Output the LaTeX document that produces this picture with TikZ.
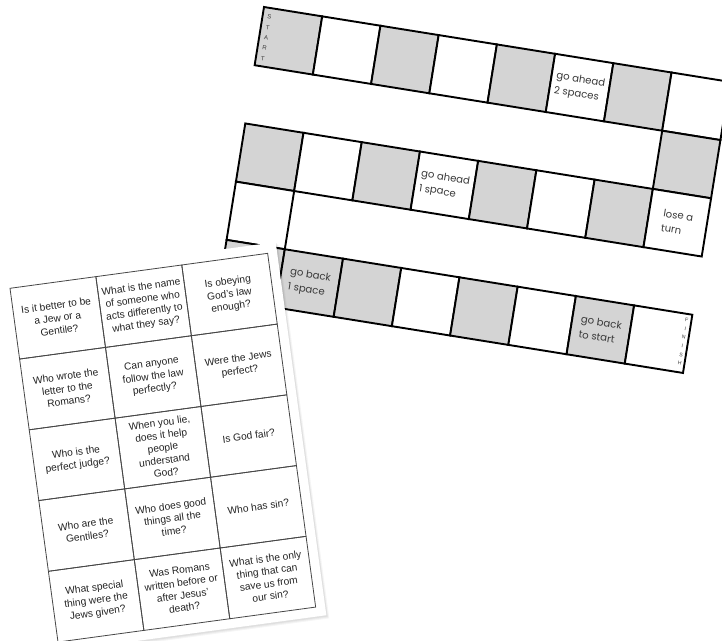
\documentclass[tikz,border=0pt]{standalone}
\usepackage{fontspec}
\setmainfont{Liberation Sans}
\newfontfamily\boardfont{Poppins}
\definecolor{cellgray}{RGB}{212,212,212}
\definecolor{boardtxt}{RGB}{58,58,58}
\definecolor{cardtxt}{RGB}{35,35,35}
\definecolor{cardline}{RGB}{70,70,70}
\begin{document}
\begin{tikzpicture}[x=1pt,y=-1pt,
  bcell/.style={draw=black, line width=1.9pt, minimum width=58.97pt, minimum height=58.97pt, inner sep=0pt, outer sep=0pt, transform shape},
  btext/.style={font=\boardfont\fontsize{10.1}{14.8}\selectfont, text=boardtxt, align=left, inner sep=0pt, transform shape},
  tiny/.style={font=\fontsize{6}{10.4}\selectfont, text=boardtxt, align=center, inner sep=0pt, transform shape},
  ccell/.style={draw=cardline, line width=0.8pt, minimum width=86.67pt, minimum height=71.4pt, inner sep=0pt, outer sep=0pt, transform shape},
  ctext/.style={font=\fontsize{10.2}{12.6}\selectfont, text=cardtxt, align=center, inner sep=0pt, transform shape}]
\useasboundingbox (0,0) rectangle (722,640);
\clip (0,0) rectangle (722,640);
\fill[white] (0,0) rectangle (722,640);
\def\S{58.97}
% ---------------- game board ----------------
\begin{scope}[shift={(264,7)}, rotate=-9.13]
  \foreach \i/\j/\f in {0/0/cellgray,1/0/white,2/0/cellgray,3/0/white,4/0/cellgray,5/0/white,6/0/cellgray,7/0/white,
                        7/1/cellgray,
                        0/2/cellgray,1/2/white,2/2/cellgray,3/2/white,4/2/cellgray,5/2/white,6/2/cellgray,7/2/white,
                        0/3/white,
                        0/4/cellgray,1/4/cellgray,2/4/cellgray,3/4/white,4/4/cellgray,5/4/white,6/4/cellgray,7/4/white}
    \node[bcell, fill=\f] (c\i\j) at ({(\i+0.5)*\S},{(\j+0.5)*\S}) {};
  \node[btext] (t1) at (c50.center) {go ahead\\2 spaces};
  \node[btext] (t2) at (c32.center) {go ahead\\1 space};
  \node[btext] (t3) at (c72.center) {lose a\\turn};
  \node[btext] (t4) at (c14.center) {go back\\1 space};
  \node[btext] (t5) at (c64.center) {go back\\to start};
  \node[tiny] (start) at (7,30) {S\\T\\A\\R\\T};
  \node[tiny, font=\fontsize{5.2}{8.8}\selectfont] (finish) at ({8*\S-4.8},{4*\S+28}) {F\\I\\N\\I\\S\\H};
\end{scope}
% ---------------- question cards ----------------
\begin{scope}[shift={(10,288.3)}, rotate=7.73]
  \fill[black, opacity=0.04] (-7,-7) rectangle (272,370);
  \fill[black, opacity=0.04] (-8,-8) rectangle (271,369);
  \fill[black, opacity=0.05] (-9,-9) rectangle (270.5,368);
  \fill[white] (-10,-10) rectangle (269.5,366.5);
  \foreach \i in {0,1,2}
    \foreach \j in {0,...,4}
      \node[ccell] (q\i\j) at ({(\i+0.5)*86.67},{(\j+0.5)*71.4}) {};
  \node[ctext] (k00) at (q00.center) {Is it better to be\\a Jew or a\\Gentile?};
  \node[ctext] (k10) at (q10.center) {What is the name\\of someone who\\acts differently to\\what they say?};
  \node[ctext] (k20) at (q20.center) {Is obeying\\God's law\\enough?};
  \node[ctext] (k01) at (q01.center) {Who wrote the\\letter to the\\Romans?};
  \node[ctext] (k11) at (q11.center) {Can anyone\\follow the law\\perfectly?};
  \node[ctext] (k21) at (q21.center) {Were the Jews\\perfect?};
  \node[ctext] (k02) at (q02.center) {Who is the\\perfect judge?};
  \node[ctext] (k12) at (q12.center) {When you lie,\\does it help\\people\\understand\\God?};
  \node[ctext] (k22) at (q22.center) {Is God fair?};
  \node[ctext] (k03) at (q03.center) {Who are the\\Gentiles?};
  \node[ctext] (k13) at (q13.center) {Who does good\\things all the\\time?};
  \node[ctext] (k23) at (q23.center) {Who has sin?};
  \node[ctext] (k04) at (q04.center) {What special\\thing were the\\Jews given?};
  \node[ctext] (k14) at (q14.center) {Was Romans\\written before or\\after Jesus'\\death?};
  \node[ctext] (k24) at (q24.center) {What is the only\\thing that can\\save us from\\our sin?};
\end{scope}
\end{tikzpicture}
\end{document}
